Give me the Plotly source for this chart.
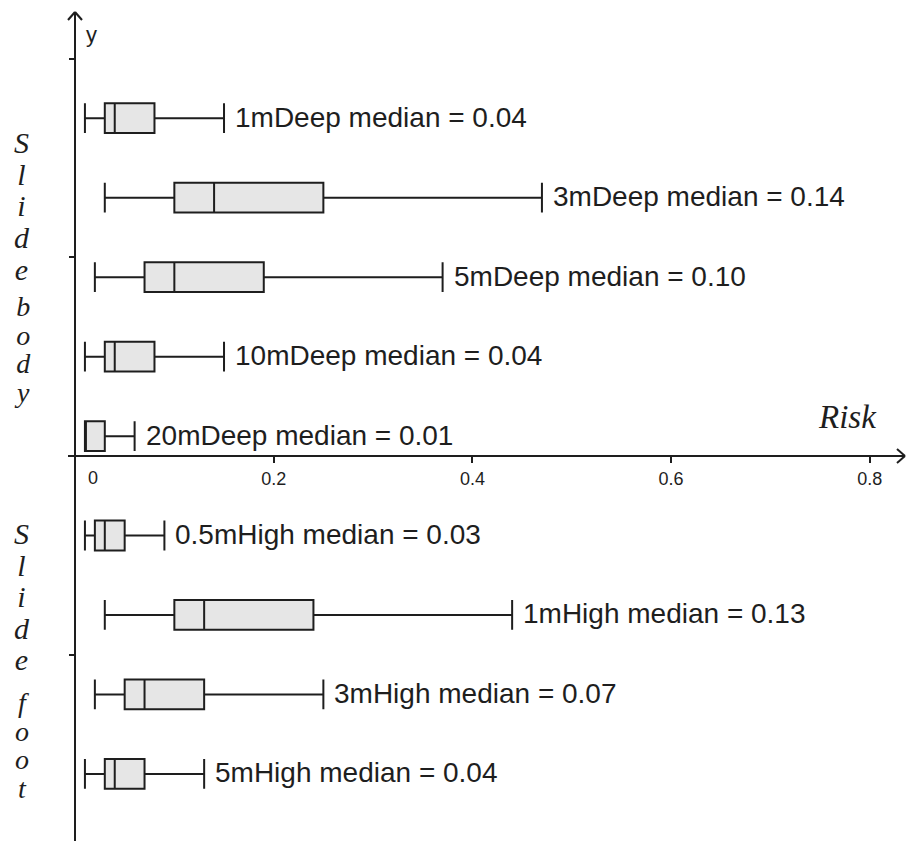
import plotly.graph_objects as go

# ---------------- data ----------------
groups = ["1mDeep", "3mDeep", "5mDeep", "10mDeep", "20mDeep",
          "0.5mHigh", "1mHigh", "3mHigh", "5mHigh"]
positions = [0.34, 0.26, 0.18, 0.10, 0.02, -0.08, -0.16, -0.24, -0.32]
mins = [0.01, 0.03, 0.02, 0.01, 0.01, 0.01, 0.03, 0.02, 0.01]
q1s = [0.03, 0.10, 0.07, 0.03, 0.01, 0.02, 0.10, 0.05, 0.03]
medians = [0.04, 0.14, 0.10, 0.04, 0.01, 0.03, 0.13, 0.07, 0.04]
q3s = [0.08, 0.25, 0.19, 0.08, 0.03, 0.05, 0.24, 0.13, 0.07]
maxs = [0.15, 0.47, 0.37, 0.15, 0.06, 0.09, 0.44, 0.25, 0.13]

x_tick_vals = [0.2, 0.4, 0.6, 0.8]
x_tick_text = ["0.2", "0.4", "0.6", "0.8"]
y_tick_vals = [-0.2, 0.2, 0.4]

# vertical side labels, split where the reference leaves a wider gap
side_segments = [["S", "l", "i", "d", "e"], ["b", "o", "d", "y"],
                 ["S", "l", "i", "d", "e"], ["f", "o", "o", "t"]]

# ---------------- layout helpers ----------------
W, H = 906, 841
PX = 993.5            # pixels per unit (equal on both axes)
X0_PX, Y0_PX = 75, 456
XR = [-X0_PX / PX, (W - X0_PX) / PX]
YR = [(Y0_PX - H) / PX, Y0_PX / PX]


def dx(px):
    return (px - X0_PX) / PX


def dy(py):
    return (Y0_PX - py) / PX


INK = "#1e1e1e"
SANS = "Liberation Sans, Arial, sans-serif"
SERIF = "Liberation Serif, Times New Roman, serif"

fig = go.Figure()
fig.add_trace(go.Box(
    y=positions, q1=q1s, median=medians, q3=q3s,
    lowerfence=mins, upperfence=maxs,
    orientation="h", width=0.03, whiskerwidth=1,
    fillcolor="#e6e6e6", line=dict(color=INK, width=2),
    boxpoints=False, showlegend=False, hoverinfo="skip",
))

annotations = []
for g, p, m, mx in zip(groups, positions, medians, maxs):
    annotations.append(dict(
        x=mx, y=p, xref="x", yref="y", text=f"{g} median = {m:.2f}",
        showarrow=False, xanchor="left", yanchor="middle", xshift=9, yshift=1,
        font=dict(family=SANS, size=28, color=INK)))

# left vertical words: (centre pixel y, line pitch px, letter size px)
seg_layout = [(206, 31.7, 30), (349, 28.5, 28), (596, 31.5, 30), (745, 28.5, 28)]
for letters, (cy, pitch, size) in zip(side_segments, seg_layout):
    txt = "<br>".join(f"<span style='font-size:{size}px'><i>{c}</i></span>" for c in letters)
    annotations.append(dict(
        x=dx(22), y=dy(cy), xref="x", yref="y", text=txt,
        showarrow=False, xanchor="center", yanchor="middle",
        font=dict(family=SERIF, size=pitch / 1.3, color=INK)))

annotations.append(dict(x=dx(84), y=dy(34), xref="x", yref="y", text="y",
                        showarrow=False, xanchor="left", yanchor="middle",
                        font=dict(family=SANS, size=22, color=INK)))
annotations.append(dict(x=dx(847), y=dy(417), xref="x", yref="y", text="<i>Risk</i>",
                        showarrow=False, xanchor="center", yanchor="middle",
                        font=dict(family=SERIF, size=33, color=INK)))
annotations.append(dict(x=dx(93), y=dy(478), xref="x", yref="y", text="0",
                        showarrow=False, xanchor="center", yanchor="middle",
                        font=dict(family=SANS, size=18, color=INK)))

line = dict(color=INK, width=2)
shapes = [
    # x axis and arrow
    dict(type="line", x0=dx(68), y0=0, x1=dx(905), y1=0, line=line),
    dict(type="line", x0=dx(897), y0=dy(449), x1=dx(905), y1=0, line=line),
    dict(type="line", x0=dx(897), y0=dy(463), x1=dx(905), y1=0, line=line),
    # y axis and arrow
    dict(type="line", x0=0, y0=dy(841), x1=0, y1=dy(12), line=line),
    dict(type="line", x0=dx(68), y0=dy(20), x1=0, y1=dy(12), line=line),
    dict(type="line", x0=dx(82), y0=dy(20), x1=0, y1=dy(12), line=line),
]

fig.update_layout(
    width=W, height=H, margin=dict(l=0, r=0, t=0, b=0),
    paper_bgcolor="white", plot_bgcolor="white",
    annotations=annotations, shapes=shapes,
    xaxis=dict(range=XR, showgrid=False, zeroline=False, showline=False,
               anchor="free", position=(H - Y0_PX) / H,
               tickmode="array", tickvals=x_tick_vals, ticktext=x_tick_text,
               ticks="outside", ticklen=6, tickwidth=1.5, tickcolor=INK,
               tickfont=dict(family=SANS, size=18, color=INK), fixedrange=True),
    yaxis=dict(range=YR, showgrid=False, zeroline=False, showline=False,
               anchor="free", position=X0_PX / W,
               tickmode="array", tickvals=y_tick_vals, showticklabels=False,
               ticks="outside", ticklen=6, tickwidth=1.5, tickcolor=INK,
               fixedrange=True),
)

fig.write_html("out.html")
